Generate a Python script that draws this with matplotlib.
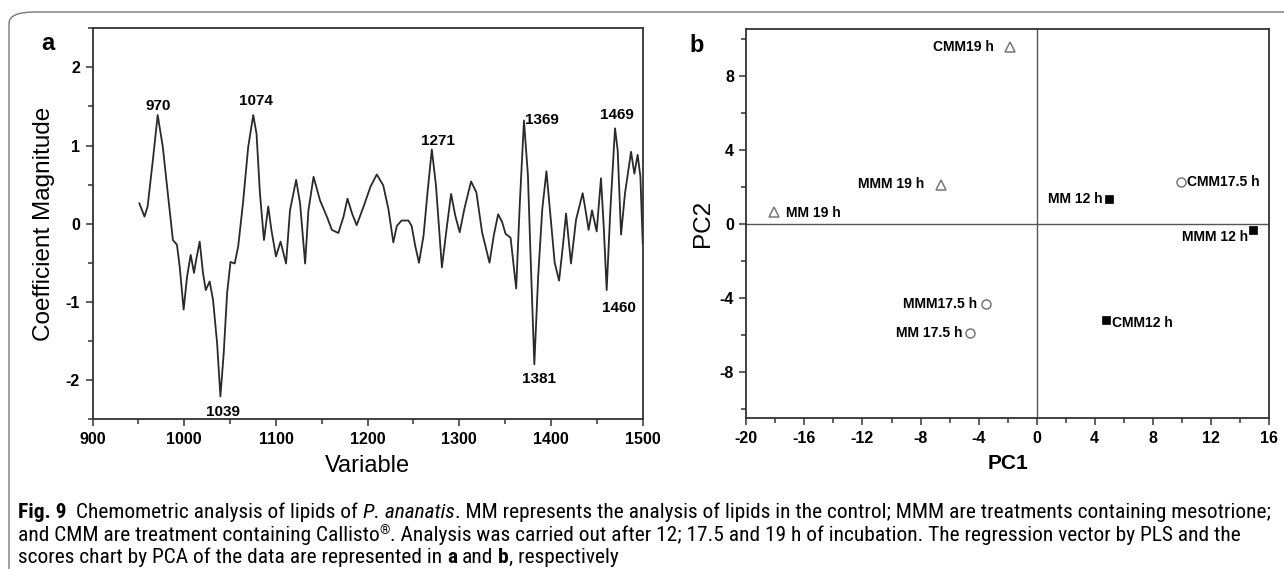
import matplotlib
matplotlib.use("Agg")
import matplotlib.pyplot as plt
import numpy as np
from matplotlib import font_manager
from matplotlib.transforms import IdentityTransform
from matplotlib.patches import FancyBboxPatch
from matplotlib.ticker import MultipleLocator

plt.rcParams["axes.unicode_minus"] = False

# ---------------- data ----------------
coef_x = [951, 956.6, 960, 965.7, 971, 976.6, 982, 987.6, 992, 995, 999.3, 1003, 1007,
          1010.6, 1013, 1016.8, 1020.4, 1023.4, 1027.7, 1031.4, 1035.8, 1039.4, 1043,
          1046.7, 1050.4, 1055, 1058.8, 1064, 1069.7, 1075.2, 1078.8, 1082.5, 1086.9,
          1091.6, 1095, 1100, 1105, 1111, 1115.3, 1122, 1126.3, 1131.8, 1135.4, 1141,
          1148, 1155.5, 1161, 1168, 1173.7, 1178, 1183, 1188, 1195.6, 1203, 1210, 1217,
          1222.6, 1228, 1231.8, 1237, 1244.5, 1248, 1251.8, 1256, 1261, 1265.3, 1270,
          1274.5, 1281, 1286.5, 1291, 1295.6, 1300.4, 1305.5, 1312.8, 1318.6, 1324.8,
          1332.9, 1337.6, 1342.3, 1346.7, 1350.4, 1355.9, 1362, 1366, 1370.5, 1374.8,
          1377.8, 1381.8, 1386, 1390.5, 1395, 1399.7, 1404, 1408.8, 1413, 1416.4,
          1421.8, 1427.3, 1434.5, 1437, 1441, 1444.7, 1449.8, 1454.5, 1457.5, 1460.7,
          1464.7, 1469.8, 1472.7, 1476.4, 1480.7, 1487.3, 1490.9, 1494.5, 1497.5, 1500]
coef_y = [0.26, 0.09, 0.22, 0.81, 1.39, 0.98, 0.39, -0.21, -0.27, -0.55, -1.10, -0.68, -0.40,
          -0.63, -0.46, -0.23, -0.63, -0.85, -0.74, -0.98, -1.53, -2.21, -1.66,
          -0.89, -0.49, -0.51, -0.29, 0.26, 0.98, 1.39, 1.15, 0.39, -0.21,
          0.22, -0.08, -0.42, -0.23, -0.51, 0.17, 0.56, 0.26, -0.51, 0.17, 0.60,
          0.30, 0.09, -0.08, -0.12, 0.09, 0.32, 0.13, -0.02, 0.22, 0.47, 0.63, 0.49,
          0.19, -0.24, -0.03, 0.04, 0.04, -0.03, -0.28, -0.50, -0.15, 0.40, 0.95,
          0.49, -0.56, -0.03, 0.38, 0.10, -0.11, 0.19, 0.54, 0.40, -0.11,
          -0.50, -0.15, 0.12, 0.02, -0.13, -0.18, -0.83, 0.27, 1.32, 0.62,
          -0.45, -1.80, -0.67, 0.19, 0.67, 0.06, -0.50, -0.73, -0.28, 0.13,
          -0.51, 0.05, 0.39, 0.22, -0.08, 0.17, -0.10, 0.58, -0.04, -0.85,
          0.17, 1.22, 0.94, -0.14, 0.39, 0.92, 0.64, 0.88, 0.60, -0.25]

peak_wn = [970, 1074, 1039, 1271, 1369, 1469, 1381, 1460]

pca_labels = ["CMM19 h", "MMM 19 h", "MM 19 h", "MM 12 h", "CMM17.5 h",
              "MMM 12 h", "MMM17.5 h", "MM 17.5 h", "CMM12 h"]
pca_time = ["19 h", "19 h", "19 h", "12 h", "17.5 h", "12 h", "17.5 h", "17.5 h", "12 h"]
pc1 = [-1.82, -6.62, -18.08, 4.98, 9.97, 14.93, -3.47, -4.56, 4.79]
pc2 = [9.53, 2.08, 0.64, 1.35, 2.24, -0.31, -4.32, -5.92, -5.2]

caption_line1 = [("Fig. 9", "b", 2), ("Chemometric analysis of lipids of", "n", 1),
                 ("P. ananatis", "i", 0),
                 (". MM represents the analysis of lipids in the control; MMM are treatments containing mesotrione;", "n", 0)]
caption_line2 = [("and CMM are treatment containing Callisto", "n", 0), ("®", "s", 0),
                 (". Analysis was carried out after 12; 17.5 and 19 h of incubation. The regression vector by PLS and the", "n", 0)]
caption_line3 = [("scores chart by PCA of the data are represented in", "n", 1), ("a", "b", 1),
                 ("and", "n", 1), ("b", "b", 0), (", respectively", "n", 0)]

# ---------------- styles / layout ----------------
names = {f.name for f in font_manager.fontManager.ttflist}
cands = ["Liberation Sans Narrow", "Roboto Condensed", "Open Sans Condensed",
         "Noto Sans Condensed", "Liberation Sans"]
NARROW = next((c for c in cands if c in names), "DejaVu Sans")
ARIAL = "Liberation Sans"
CAPF = NARROW
PX = 72.0 / 100.0  # px -> points

W, H = 1284, 569
fig = plt.figure(figsize=(W / 100, H / 100), dpi=100)

frame = FancyBboxPatch((9 / W, -0.2), 1.2, (H - 12) / H + 0.2,
                       boxstyle="round,pad=0,rounding_size=0.02",
                       transform=fig.transFigure, fill=False, ec="#777777", lw=1.0)
fig.patches.append(frame)

spine_c = "#333333"

def style_axes(ax):
    for s in ax.spines.values():
        s.set_color(spine_c)
        s.set_linewidth(1.3)
    ax.tick_params(which="both", direction="out", color=spine_c, width=1.1,
                   top=False, right=False)
    ax.tick_params(which="major", length=5, pad=4)
    ax.tick_params(which="minor", length=3.5)
    for lab in ax.get_xticklabels() + ax.get_yticklabels():
        lab.set_fontfamily(ARIAL)
        lab.set_fontweight("bold")
        lab.set_fontsize(11.5)

# ---------------- panel a ----------------
axa = fig.add_axes([92.6 / W, 1 - 419 / H, 550.1 / W, 390.7 / H])
axa.plot(coef_x, coef_y, color="#2a2a2a", lw=1.3, solid_joinstyle="round")
axa.set_xlim(900, 1500)
axa.set_ylim(-2.5, 2.5)
axa.xaxis.set_major_locator(MultipleLocator(100))
axa.xaxis.set_minor_locator(MultipleLocator(50))
axa.yaxis.set_major_locator(MultipleLocator(1))
axa.yaxis.set_minor_locator(MultipleLocator(0.5))
style_axes(axa)
axa.set_xlabel("Variable", fontfamily=ARIAL, fontsize=17, labelpad=6)
axa.set_ylabel("Coefficient Magnitude", fontfamily=ARIAL, fontsize=17.5, labelpad=8)

# label offsets (px) from the curve value at each wavenumber
peak_off = [(1, 18, "center"), (3.4, 21, "center"), (3.2, -21.5, "center"), (5, 16.5, "center"),
            (2, 28, "left"), (2.4, 26, "center"), (5, -36, "center"), (12.8, -32, "center")]
for wn, (dx, dy, ha) in zip(peak_wn, peak_off):
    yv = np.interp(wn, coef_x, coef_y)
    axa.annotate(str(wn), xy=(wn, yv), xytext=(dx * PX, dy * PX), textcoords="offset points",
                 ha=ha, va="center", fontfamily=ARIAL, fontweight="bold", fontsize=11)

fig.text(48 / W, 1 - 43 / H, "a", fontfamily=ARIAL, fontweight="bold", fontsize=17,
         ha="center", va="center")

# ---------------- panel b ----------------
axb = fig.add_axes([746.4 / W, 1 - 418.3 / H, 522.4 / W, 389 / H])
axb.axhline(0, color="#555555", lw=1.0, zorder=1)
axb.axvline(0, color="#555555", lw=1.0, zorder=1)
mstyle = {
    "19 h": dict(marker="^", mfc="white", mec="#777777", ms=7.5, mew=1.1),
    "17.5 h": dict(marker="o", mfc="white", mec="#777777", ms=6.5, mew=1.1),
    "12 h": dict(marker="s", mfc="black", mec="black", ms=5.8, mew=0.5),
}
for x, y, t in zip(pc1, pc2, pca_time):
    axb.plot([x], [y], ls="none", zorder=3, **mstyle[t])

lab_off = [(-16, 0, "right"), (-16, 1, "right"), (12, -1, "left"), (-6, 0, "right"),
           (6, 0, "left"), (-5.6, -7, "right"), (-9, 0, "right"), (-8, 0, "right"),
           (5.6, -2.7, "left")]
for x, y, s, (dx, dy, ha) in zip(pc1, pc2, pca_labels, lab_off):
    axb.annotate(s, xy=(x, y), xytext=(dx * PX, dy * PX), textcoords="offset points",
                 ha=ha, va="center", fontfamily=ARIAL, fontweight="bold", fontsize=10)

axb.set_xlim(-20, 16)
axb.set_ylim(-10.5, 10.5)
axb.xaxis.set_major_locator(MultipleLocator(4))
axb.xaxis.set_minor_locator(MultipleLocator(2))
axb.yaxis.set_major_locator(MultipleLocator(4))
axb.yaxis.set_minor_locator(MultipleLocator(2))
style_axes(axb)
axb.set_xlabel("PC1", fontfamily=ARIAL, fontweight="bold", fontsize=15, labelpad=6)
axb.set_ylabel("PC2", fontfamily=ARIAL, fontsize=17.5, labelpad=4)

fig.text(697 / W, 1 - 45 / H, "b", fontfamily=ARIAL, fontweight="bold", fontsize=17,
         ha="center", va="center")

# ---------------- caption ----------------
renderer = fig.canvas.get_renderer()
KIND = {"n": {}, "b": dict(fontweight="bold"), "i": dict(fontstyle="italic"), "s": {}}

def width_of(s, fs, **kw):
    t = fig.text(0, 0, s, transform=IdentityTransform(), fontfamily=CAPF, fontsize=fs, **kw)
    w = t.get_window_extent(renderer).width
    t.remove()
    return w

def draw_line(x, y, runs, fs, draw=True):
    sp = width_of("x x", fs) - width_of("xx", fs)
    x0 = x
    for s, k, gap in runs:
        props = dict(fontfamily=CAPF, fontsize=fs)
        props.update(KIND[k])
        yy = y
        if k == "s":
            yy = y + 0.45 * fs
            props["fontsize"] = fs * 0.62
        t = fig.text(x, yy, s, transform=IdentityTransform(), va="baseline", ha="left", **props)
        x += t.get_window_extent(renderer).width + gap * sp
        if not draw:
            t.remove()
    return x - x0

target = 1252.0
fs0 = 12.0
w0 = draw_line(18, -100, caption_line1, fs0, draw=False)
CAP_FS = fs0 * target / w0

draw_line(18, H - 518, caption_line1, CAP_FS)
draw_line(18, H - 541, caption_line2, CAP_FS)
draw_line(18, H - 563, caption_line3, CAP_FS)

fig.savefig("out.png", dpi=100)
